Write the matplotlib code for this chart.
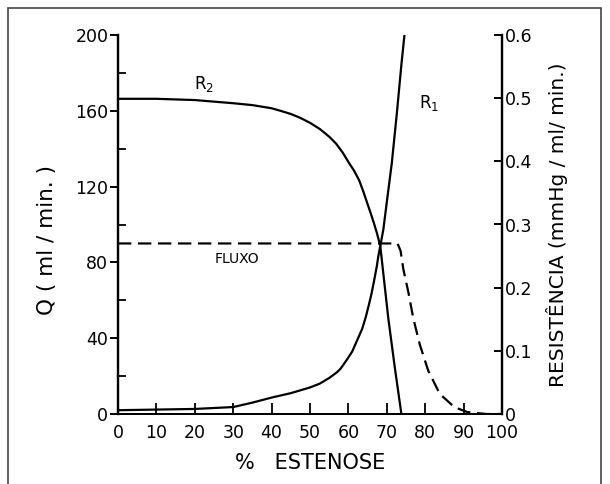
import matplotlib
matplotlib.use("Agg")
import matplotlib.pyplot as plt
from matplotlib.patches import Rectangle
from matplotlib.ticker import FixedLocator

# ---- data ----
stenosis_r1 = [0, 10, 20, 30, 35, 40, 45, 50, 52.5, 55, 57, 58, 59.5, 61, 62.3, 63.6,
               64.5, 65.3, 66, 66.6, 67.4, 67.8, 68.3, 69.1, 70.2, 71.3, 72.6, 73.8, 74.6]
r1 = [0.006, 0.007, 0.008, 0.011, 0.018, 0.026, 0.033, 0.042, 0.048, 0.057, 0.066,
      0.072, 0.085, 0.099, 0.117, 0.135, 0.153, 0.172, 0.19, 0.208, 0.234, 0.25,
      0.266, 0.292, 0.345, 0.397, 0.475, 0.553, 0.6]

stenosis_r2 = [0, 10, 20, 30, 35, 40, 42.3, 45, 47.4, 50, 52.6, 55, 56.8, 58.5, 60.2,
               61.5, 62.8, 63.9, 64.9, 65.8, 66.6, 67.4, 68.3, 70.4, 72.1, 73.8]
r2 = [0.499, 0.499, 0.497, 0.492, 0.489, 0.484, 0.48, 0.475, 0.469, 0.461, 0.451,
      0.439, 0.428, 0.414, 0.397, 0.385, 0.37, 0.352, 0.334, 0.318, 0.303, 0.287,
      0.266, 0.151, 0.073, 0.0]

stenosis_flux = [0, 72.8, 73.6, 74.3, 75.6, 76.9, 78.6, 80.8, 83.8, 87.6, 91, 96, 100]
flux = [90, 90, 86, 76.5, 64.4, 50.5, 36.6, 22.8, 10.6, 3.6, 1, 0, 0]

x_ticks = [0, 10, 20, 30, 40, 50, 60, 70, 80, 90, 100]
q_ticks = [0, 40, 80, 120, 160, 200]
q_minor = [20, 60, 100, 140, 180]
r_ticks = [0, 0.1, 0.2, 0.3, 0.4, 0.5, 0.6]
r_tick_labels = ["0", "0.1", "0.2", "0.3", "0.4", "0.5", "0.6"]

plt.rcParams['font.family'] = ['DejaVu Sans']

fig = plt.figure(figsize=(6.10, 4.84), dpi=100)
ax = fig.add_axes([118/610, 1 - 414/484, (502-118)/610, (414-35)/484])
ax2 = ax.twinx()

lw = 1.6
ax.plot(stenosis_flux, flux, color='black', lw=lw, linestyle=(0, (6, 3)))
ax2.plot(stenosis_r1, r1, color='black', lw=lw)
ax2.plot(stenosis_r2, r2, color='black', lw=lw)

ax.set_xlim(0, 100)
ax.set_ylim(0, 200)
ax2.set_ylim(0, 0.6)

for a in (ax, ax2):
    a.spines['top'].set_visible(False)
    a.spines['left'].set_linewidth(1.6)
    a.spines['right'].set_linewidth(1.6)
    a.spines['bottom'].set_linewidth(1.3)

ax.set_xticks(x_ticks)
ax.set_xticklabels([str(v) for v in x_ticks])
ax.set_yticks(q_ticks)
ax.set_yticklabels([str(v) for v in q_ticks])
ax.yaxis.set_minor_locator(FixedLocator(q_minor))
ax.tick_params(axis='x', direction='in', length=8, width=1.3, pad=7, labelsize=12.5)
ax.tick_params(axis='y', which='major', direction='out', length=6, width=1.4, pad=1, labelsize=12.5)
ax.tick_params(axis='y', which='minor', direction='in', length=6, width=1.3)

ax2.set_yticks(r_ticks)
ax2.set_yticklabels(r_tick_labels)
ax2.tick_params(axis='y', direction='in', length=6, width=1.4, pad=2, labelsize=12.5)

ax.set_xlabel("%   ESTENOSE", fontsize=15, labelpad=8)
ax.set_ylabel("Q ( ml / min. )", fontsize=15.5, labelpad=10)
ax.yaxis.set_label_coords(-0.16, 0.46)
ax2.set_ylabel("RESISTÊNCIA (mmHg / ml/ min.)", fontsize=14.5, labelpad=10)

ax.text(22.5, 174, "R$_2$", fontsize=12, ha='center', va='center')
ax.text(81, 164, "R$_1$", fontsize=12, ha='center', va='center')
ax.text(31, 82, "FLUXO", fontsize=10, ha='center', va='center')

fig.patches.append(Rectangle((8/610, -0.05), (601-8)/610, 1 - 8/484 + 0.05,
                             fill=False, transform=fig.transFigure,
                             edgecolor='#444444', lw=1.2))

fig.savefig("out.png", dpi=100)
